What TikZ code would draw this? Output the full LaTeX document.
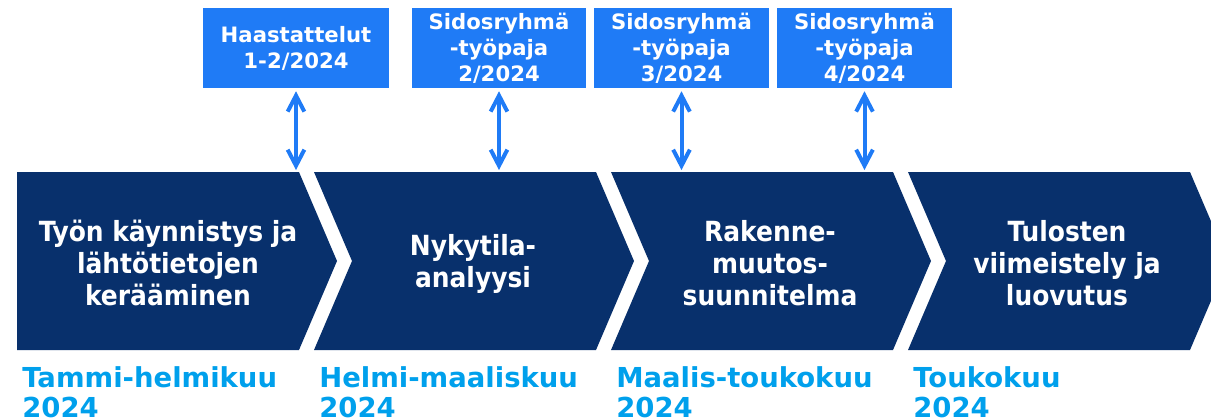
\documentclass[tikz,border=0pt]{standalone}
\usepackage{fontspec}
\setmainfont{DejaVu Sans}
\newfontfamily\condfont{DejaVu Sans Condensed}
\usetikzlibrary{arrows.meta}
\definecolor{navy}{RGB}{8,48,108}
\definecolor{boxblue}{RGB}{31,123,246}
\definecolor{datecyan}{RGB}{0,160,236}
\tikzset{
  phase/.style={fill=navy},
  phasetext/.style={text=white, align=center, inner sep=0pt,
    font=\condfont\bfseries\fontsize{20.8}{24}\selectfont},
  event/.style={fill=boxblue, text=white, align=center, inner sep=0pt,
    minimum width=131pt, minimum height=60pt,
    font=\bfseries\fontsize{15.9}{19.5}\selectfont},
  datetext/.style={text=datecyan, align=left, anchor=north west, inner sep=0pt,
    font=\bfseries\fontsize{20.6}{22.5}\selectfont},
  link/.style={draw=boxblue, line width=3pt,
    {Straight Barb[length=12pt,width=12.5pt]}-{Straight Barb[length=12pt,width=12.5pt]},
    shorten <=2.25pt, shorten >=1.5pt}
}
\begin{document}
\begin{tikzpicture}[x=0.75pt,y=-0.75pt]
\useasboundingbox (0,0) rectangle (1211,418);
% Top edge of the chevrons, the arrows end here
\coordinate (top) at (0,172);
% Draw the chevrons
\foreach \i in {0,...,3}
{
  \pgfmathsetmacro{\l}{17+297*\i}
  \pgfmathsetmacro{\r}{\l+282}
  % The first one has a flat left side, no notch
  \pgfmathsetmacro{\n}{\i==0 ? 0 : 38}
  \fill[phase] (\l,172) -- (\r,172) -- (\r+38,261) -- (\r,350) -- (\l,350) -- (\l+\n,261) -- cycle;
}
% Texts in the chevrons
\draw (168,263) node[phasetext] (c1) {Työn käynnistys ja\\lähtötietojen\\kerääminen};
\draw (473,264) node[phasetext] (c2) {Nykytila-\\analyysi};
\draw (770,263) node[phasetext] (c3) {Rakenne-\\muutos-\\suunnitelma};
\draw (1067,263) node[phasetext] (c4) {Tulosten\\viimeistely ja\\luovutus};
% Months under the chevrons
\foreach \t [count=\i] in {Tammi-helmikuu,Helmi-maaliskuu,Maalis-toukokuu,Toukokuu}
{
  \draw (22+297*\i-297,366) node[datetext] (d\i) {\t\\2024};
}
% Boxes on top
\draw (296,48) node[event, minimum width=139.5pt] (b1) {Haastattelut\\1-2/2024};
\draw (499,48) node[event] (b2) {Sidosryhmä\\-työpaja\\2/2024};
\draw (681.5,48) node[event] (b3) {Sidosryhmä\\-työpaja\\3/2024};
\draw (864.5,48) node[event] (b4) {Sidosryhmä\\-työpaja\\4/2024};
% Arrows from the boxes down to the chevrons
\foreach \b in {b1,b2,b3,b4}
{
  \draw[link] (\b.south) -- (\b.south |- top);
}
\end{tikzpicture}
\end{document}
